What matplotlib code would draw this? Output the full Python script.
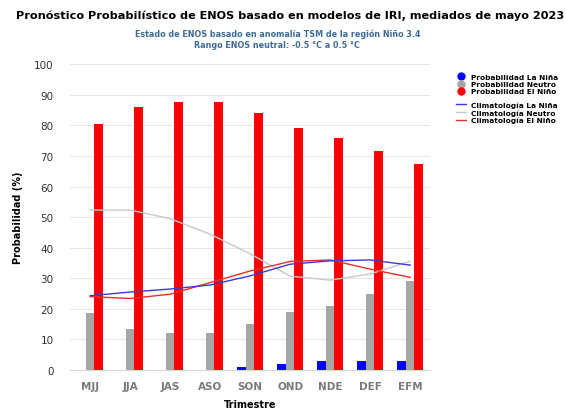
import matplotlib
matplotlib.use("Agg")
import matplotlib.pyplot as plt
from matplotlib.lines import Line2D
import numpy as np

trimestres = ["MJJ", "JJA", "JAS", "ASO", "SON", "OND", "NDE", "DEF", "EFM"]
prob_nina = [0, 0, 0, 0, 1, 2, 3, 3, 3]
prob_neutro = [18.5, 13.5, 12, 12, 15, 19, 21, 25, 29]
prob_nino = [80.5, 86, 87.5, 87.5, 84, 79, 76, 71.5, 67.5]
clim_nina = [24.3, 25.5, 26.5, 27.8, 30.8, 34.6, 35.7, 36, 34.3]
clim_neutro = [52.3, 52.3, 49.5, 44.4, 38, 30.7, 29.4, 31.4, 35.6]
clim_nino = [24, 23.4, 24.8, 28.6, 32.4, 35.5, 36, 33, 30.3]

c_nina = "#0000ff"
c_neutro = "#a6a6a6"
c_nino = "#ff0000"

fig = plt.figure(figsize=(5.66, 4.10), dpi=100)
ax = fig.add_axes([0.124, 0.095, 0.636, 0.746])

x = np.arange(len(trimestres))
w = 0.23
off = 0.215
ax.bar(x - off, prob_nina, width=w, color=c_nina, zorder=2)
ax.bar(x, prob_neutro, width=w, color=c_neutro, zorder=2)
ax.bar(x + off, prob_nino, width=w, color=c_nino, zorder=3)

ax.plot(x, clim_neutro, color="#c8c8c8", lw=1.0, zorder=4)
ax.plot(x, clim_nino, color="#e8302a", lw=1.0, zorder=4)
ax.plot(x, clim_nina, color="#3a3ad6", lw=1.0, zorder=5)

ax.set_xlim(-0.5, 8.5)
ax.set_ylim(0, 100)
ax.set_yticks(range(0, 101, 10))
ax.set_xticks(x)
ax.set_xticklabels(trimestres, fontsize=7.5, fontweight="bold", color="#7a7a7a")
ax.tick_params(axis="y", labelsize=7.5, colors="#333333", length=0, pad=12)
ax.tick_params(axis="x", length=0, pad=8)
ax.grid(axis="y", color="#e6e6e6", lw=0.7, zorder=0)
for s in ["top", "right", "left"]:
    ax.spines[s].set_visible(False)
ax.spines["bottom"].set_color("#d9d9d9")
ax.set_ylabel("Probabilidad (%)", fontsize=7, fontweight="bold", labelpad=8)
ax.set_xlabel("Trimestre", fontsize=7, fontweight="bold", labelpad=6)

fig.text(0.513, 0.962, "Pronóstico Probabilístico de ENOS basado en modelos de IRI, mediados de mayo 2023",
         ha="center", va="center", fontsize=8.1, fontweight="bold")
fig.text(0.49, 0.917, "Estado de ENOS basado en anomalía TSM de la región Niño 3.4",
         ha="center", va="center", fontsize=5.8, fontweight="bold", color="#3d6b99")
fig.text(0.49, 0.888, "Rango ENOS neutral: -0.5 °C a 0.5 °C",
         ha="center", va="center", fontsize=5.8, fontweight="bold", color="#3d6b99")

legend_kw = dict(loc="upper left", frameon=False, prop={"size": 5.3, "weight": "bold"},
                 handletextpad=0.7, labelspacing=0.15, handlelength=1.4, borderaxespad=0)
h1 = [Line2D([], [], marker="o", ls="", color=c, markersize=5) for c in (c_nina, c_neutro, c_nino)]
fig.legend(h1, ["Probabilidad La Niña", "Probabilidad Neutro", "Probabilidad El Niño"],
           bbox_to_anchor=(0.8, 0.825), **legend_kw)
h2 = [Line2D([], [], color=c, lw=1.0) for c in ("#3a3ad6", "#c8c8c8", "#e8302a")]
fig.legend(h2, ["Climatología La Niña", "Climatología Neutro", "Climatología El Niño"],
           bbox_to_anchor=(0.8, 0.757), **legend_kw)

fig.savefig("out.png", dpi=100)
